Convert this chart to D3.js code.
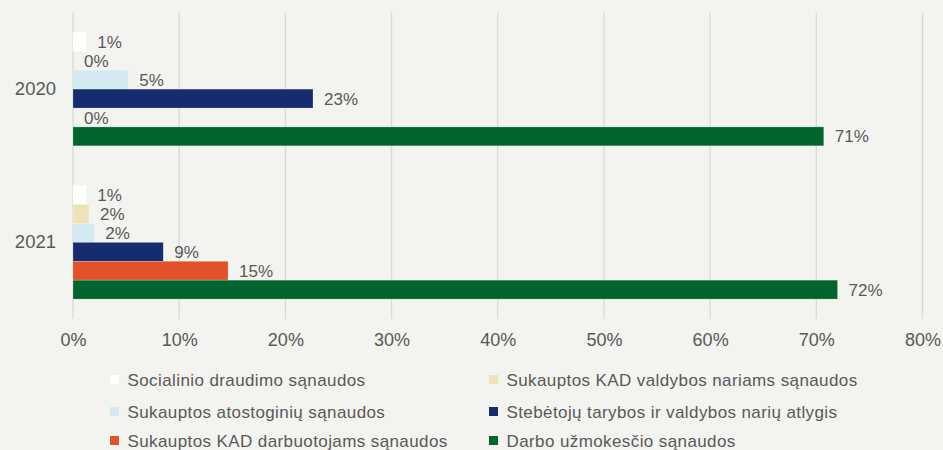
<!DOCTYPE html>
<html>
<head>
<meta charset="utf-8">
<script src="https://cdn.jsdelivr.net/npm/d3@7"></script>
<style>
  html, body { margin: 0; padding: 0; background: #F3F3EF; }
  svg { display: block; }
  text { font-family: "Liberation Sans", Arial, sans-serif; fill: #595959; }
</style>
</head>
<body>
<svg id="chart" width="943" height="450"></svg>
<script>
const years = ["2020", "2021"];
const seriesNames = [
  "Socialinio draudimo sąnaudos",
  "Sukauptos KAD valdybos nariams sąnaudos",
  "Sukauptos atostoginių sąnaudos",
  "Stebėtojų tarybos ir valdybos narių atlygis",
  "Sukauptos KAD darbuotojams sąnaudos",
  "Darbo užmokesčio sąnaudos"
];
const seriesColors = ["#FFFFFF", "#EDE2B8", "#D3EBF0", "#152D6E", "#E1512B", "#02652F"];
const values2020 = [1.25, 0, 5.2, 22.6, 0, 70.7];
const values2021 = [1.25, 1.5, 2.0, 8.5, 14.6, 72.0];
const xTicks = [0, 10, 20, 30, 40, 50, 60, 70, 80];

const valuesByYear = { "2020": values2020, "2021": values2021 };

const svg = d3.select("#chart");

const x = d3.scaleLinear().domain([0, 80]).range([73, 922.5]);
const y = d3.scaleBand().domain(years).range([12.5, 319]).paddingInner(0.26).paddingOuter(0.13);
const ys = d3.scaleBand().domain(seriesNames).range([0, y.bandwidth()]).padding(0);

// gridlines
svg.append("g")
  .selectAll("line")
  .data(xTicks)
  .join("line")
  .attr("x1", d => x(d)).attr("x2", d => x(d))
  .attr("y1", 12.5).attr("y2", 319)
  .attr("stroke", "#D9D9D9")
  .attr("stroke-width", 1.3);

// x axis labels
const xAxis = d3.axisBottom(x).tickValues(xTicks).tickSize(0).tickPadding(0).tickFormat(d => d + "%");
const gx = svg.append("g").attr("transform", "translate(0,333)").call(xAxis);
gx.select(".domain").remove();
gx.selectAll("text")
  .attr("dy", "0.72em")
  .style("font-size", "18px")
  .style("fill", "#595959")
  .style("font-family", "'Liberation Sans', Arial, sans-serif");

// y axis labels
const yAxis = d3.axisLeft(y).tickSize(0).tickPadding(17);
const gy = svg.append("g").attr("transform", "translate(73,0)").call(yAxis);
gy.select(".domain").remove();
gy.selectAll("text")
  .style("font-size", "18.5px")
  .style("fill", "#595959")
  .style("font-family", "'Liberation Sans', Arial, sans-serif");

// bars
const rows = [];
years.forEach(yr => {
  seriesNames.forEach((s, i) => {
    rows.push({ year: yr, series: s, idx: i, value: valuesByYear[yr][i] });
  });
});

const groups = svg.append("g");
groups.selectAll("rect")
  .data(rows)
  .join("rect")
  .attr("x", x(0))
  .attr("y", d => y(d.year) + ys(d.series))
  .attr("width", d => x(d.value) - x(0))
  .attr("height", ys.bandwidth())
  .attr("fill", d => seriesColors[d.idx])
  .attr("stroke", d => d.value > 0 ? "rgba(255,255,255,0.35)" : "none")
  .attr("stroke-width", 0.6);

groups.selectAll("text.val")
  .data(rows)
  .join("text")
  .attr("class", "val")
  .attr("x", d => x(d.value) + 11)
  .attr("y", d => y(d.year) + ys(d.series) + ys.bandwidth() / 2)
  .attr("dy", "0.36em")
  .style("font-size", "17px")
  .text(d => Math.round(d.value) + "%");

// legend
const legendCols = [110, 489];
const legendRows = [379.5, 411.5, 440.5];
const legend = svg.append("g");
seriesNames.forEach((s, i) => {
  const cx = legendCols[i % 2];
  const cy = legendRows[Math.floor(i / 2)];
  legend.append("rect")
    .attr("x", cx).attr("y", cy - 4.5)
    .attr("width", 9).attr("height", 9)
    .attr("fill", seriesColors[i]);
  legend.append("text")
    .attr("x", cx + 17.5)
    .attr("y", cy)
    .attr("dy", "0.36em")
    .style("font-size", "17px")
    .style("letter-spacing", "0.4px")
    .text(s);
});
</script>
</body>
</html>
